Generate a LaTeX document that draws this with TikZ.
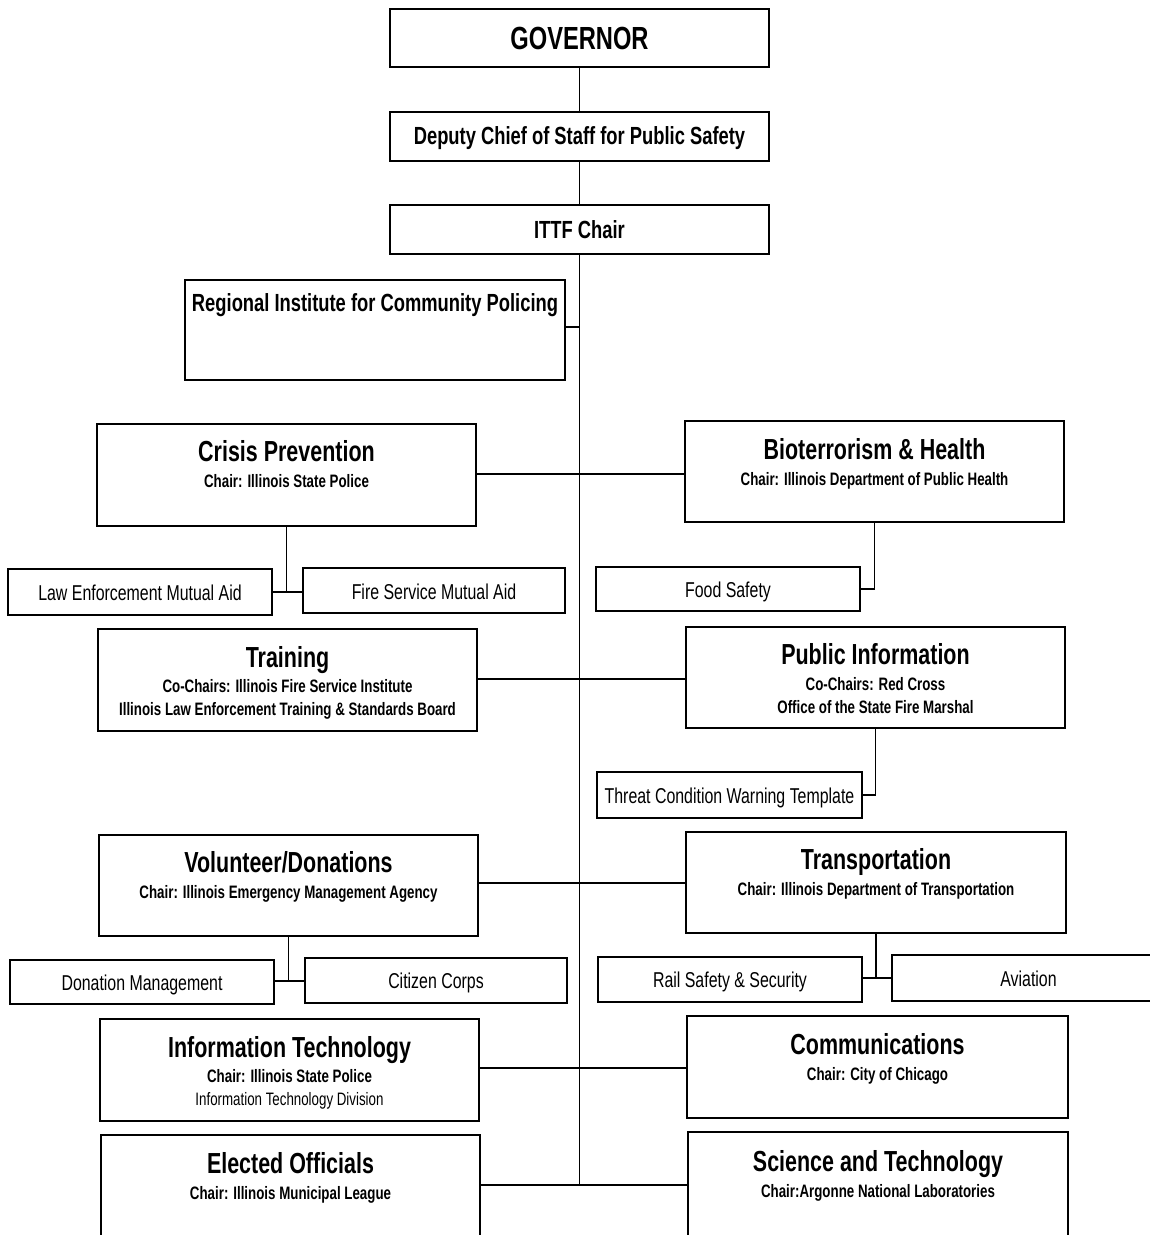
\documentclass[tikz,border=0pt]{standalone}
\usepackage{fontspec}
\setmainfont{Liberation Sans}[FakeStretch=0.74]
\usetikzlibrary{fit}
\tikzset{
  box/.style={draw, line width=1.8pt, inner sep=0pt, rectangle},
  conn/.style={line width=1.3pt},
  bigttl/.style={font=\bfseries\fontsize{32}{34}\selectfont, anchor=base, inner sep=0pt},
  midttl/.style={font=\bfseries\fontsize{24.8}{27}\selectfont, anchor=base, inner sep=0pt},
  ttl/.style={font=\bfseries\fontsize{29}{31}\selectfont, anchor=base, inner sep=0pt},
  sub/.style={font=\bfseries\fontsize{18}{21}\selectfont, anchor=base, inner sep=0pt},
  subreg/.style={font=\fontsize{18}{21}\selectfont, anchor=base, inner sep=0pt},
  leaf/.style={font=\fontsize{21.5}{24}\selectfont, anchor=base, inner sep=0pt},
}
\newcommand\orgbox[5]{\node[box, fit={(#2,#3) (#4,#5)}] (#1) {};}
\begin{document}
\begin{tikzpicture}[x=1pt,y=-1pt]
\useasboundingbox (0,0) rectangle (1150,1235);
\begin{scope}
\clip (0,0) rectangle (1150,1235);
% boxes
\orgbox{gov}{390}{9}{769}{67}
\orgbox{dep}{390}{112}{769}{161}
\orgbox{ittf}{390}{205}{769}{254}
\orgbox{ric}{185}{280}{565}{380}
\orgbox{cp}{97}{424}{476}{526}
\orgbox{bio}{685}{421}{1064}{522}
\orgbox{lema}{8}{569}{272}{615}
\orgbox{fsma}{303}{568}{565}{613}
\orgbox{food}{596}{567}{860}{611}
\orgbox{trn}{98}{629}{477}{731}
\orgbox{pi}{686}{627}{1065}{728}
\orgbox{thr}{597}{772}{862}{818}
\orgbox{vol}{99}{835}{478}{936}
\orgbox{trs}{686}{832}{1066}{933}
\orgbox{don}{10}{960}{274}{1004}
\orgbox{cit}{305}{958}{567}{1003}
\orgbox{rail}{598}{957}{862}{1002}
\orgbox{avi}{892}{955}{1165}{1001}
\orgbox{it}{100}{1019}{479}{1121}
\orgbox{com}{687}{1016}{1068}{1118}
\orgbox{eo}{101}{1135}{480}{1260}
\orgbox{st}{688}{1132}{1068}{1260}

% texts
\node[bigttl] (govT) at (gov.center |- 0,49.5) {GOVERNOR};
\node[midttl] (depT) at (dep.center |- 0,144) {Deputy Chief of Staff for Public Safety};
\node[midttl] (ittfT) at (ittf.center |- 0,238) {ITTF Chair};
\node[midttl] (ricT) at (ric.center |- 0,311) {Regional Institute for Community Policing};

\node[ttl] (cpT) at (cp.center |- 0,461) {Crisis Prevention};
\node[sub] (cpS) at (cp.center |- 0,487.5) {Chair: Illinois State Police};
\node[ttl] (bioT) at (bio.center |- 0,459) {Bioterrorism \& Health};
\node[sub] (bioS) at (bio.center |- 0,485.5) {Chair: Illinois Department of Public Health};

\node[leaf] (lemaT) at (lema.center |- 0,600) {Law Enforcement Mutual Aid};
\node[leaf] (fsmaT) at (fsma.center |- 0,599) {Fire Service Mutual Aid};
\node[leaf] (foodT) at (food.center |- 0,597) {Food Safety};

\node[ttl] (trnT) at (trn.center |- 0,667) {Training};
\node[sub] (trnS) at (trn.center |- 0,692.5) {Co-Chairs: Illinois Fire Service Institute};
\node[sub] (trnS2) at (trn.center |- 0,715.5) {Illinois Law Enforcement Training \& Standards Board};
\node[ttl] (piT) at (pi.center |- 0,664) {Public Information};
\node[sub] (piS) at (pi.center |- 0,690.5) {Co-Chairs: Red Cross};
\node[sub] (piS2) at (pi.center |- 0,713.5) {Office of the State Fire Marshal};
\node[leaf] (thrT) at (thr.center |- 0,803) {Threat Condition Warning Template};

\node[ttl] (volT) at (vol.center |- 0,872) {Volunteer/Donations};
\node[sub] (volS) at (vol.center |- 0,898.5) {Chair: Illinois Emergency Management Agency};
\node[ttl] (trsT) at (trs.center |- 0,869) {Transportation};
\node[sub] (trsS) at (trs.center |- 0,895.5) {Chair: Illinois Department of Transportation};

\node[leaf] (donT) at (don.center |- 0,990) {Donation Management};
\node[leaf] (citT) at (cit.center |- 0,988) {Citizen Corps};
\node[leaf] (railT) at (rail.center |- 0,987) {Rail Safety \& Security};
\node[leaf] (aviT) at (avi.center |- 0,986) {Aviation};

\node[ttl] (itT) at (it.center |- 0,1057) {Information Technology};
\node[sub] (itS) at (it.center |- 0,1082.5) {Chair: Illinois State Police};
\node[subreg] (itS2) at (it.center |- 0,1105.5) {Information Technology Division};
\node[ttl] (comT) at (com.center |- 0,1054) {Communications};
\node[sub] (comS) at (com.center |- 0,1080.5) {Chair: City of Chicago};

\node[ttl] (eoT) at (eo.center |- 0,1173) {Elected Officials};
\node[sub] (eoS) at (eo.center |- 0,1199.5) {Chair: Illinois Municipal League};
\node[ttl] (stT) at (st.center |- 0,1171) {Science and Technology};
\node[sub] (stS) at (st.center |- 0,1197.5) {Chair:Argonne National Laboratories};

% connectors
\coordinate (tend) at (579.5,1185);
\draw[conn] (gov.south) -- (dep.north);
\draw[conn] (dep.south) -- (ittf.north);
\draw[conn] (ittf.south) -- (tend);
\draw[conn] (ric.east |- 0,327) -- (ittf.south |- 0,327);
\draw[conn] (cp.east |- 0,474) -- (bio.west |- 0,474);
\draw[conn] (cp.south) -- (cp.south |- 0,592);
\draw[conn] (lema.east |- 0,592) -- (fsma.west |- 0,592);
\draw[conn] (bio.south) |- (food.east);
\draw[conn] (trn.east |- 0,679) -- (pi.west |- 0,679);
\draw[conn] (pi.south) |- (thr.east);
\draw[conn] (vol.east |- 0,883) -- (trs.west |- 0,883);
\draw[conn] (vol.south) -- (vol.south |- 0,981);
\draw[conn] (don.east |- 0,981) -- (cit.west |- 0,981);
\draw[conn] (trs.south) -- (trs.south |- 0,978);
\draw[conn] (rail.east |- 0,978) -- (avi.west |- 0,978);
\draw[conn] (it.east |- 0,1068) -- (com.west |- 0,1068);
\draw[conn] (eo.east |- tend) -- (tend) -- (st.west |- tend);
\end{scope}
\end{tikzpicture}
\end{document}
